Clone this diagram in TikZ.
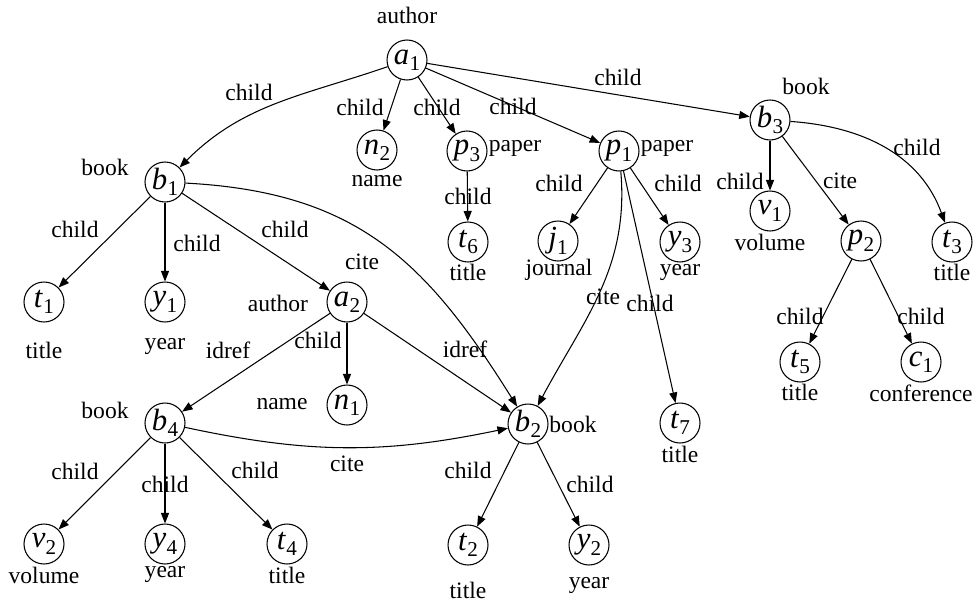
\documentclass[tikz,border=0pt]{standalone}
\usepackage{fontspec}
\setmainfont{Liberation Serif}
\usetikzlibrary{arrows.meta}
\tikzset{mynode/.style={draw, circle, minimum size=0.8cm, inner sep=0pt, line width=0.6pt}}
\tikzset{mynodeTag/.style={inner sep=1pt, font=\fontsize{13.4}{15}\selectfont}}
\tikzset{myarrow/.style={-{Triangle[length=0.21cm,width=0.16cm]}, line width=0.6pt}}
\tikzset{myarrowLbl/.style={inner sep=1pt, font=\fontsize{13.4}{15}\selectfont}}
% italic letter with a lowered index
\newcommand{\vtx}[2]{\fontsize{17.5}{17.5}\selectfont\textit{#1}\kern0.01em\raisebox{-0.45ex}{\fontsize{12}{12}\selectfont #2}}

\begin{document}
\begin{tikzpicture}

\useasboundingbox (0,0) rectangle (19.52,12.08);

\node[mynode] (a1) at (8.14, 10.88) {\vtx{a}{1}};
\node[mynode] (n2) at (7.54, 9.08) {\vtx{n}{2}};
\node[mynode] (p3) at (9.34, 9.06) {\vtx{p}{3}};
\node[mynode] (t6) at (9.36, 7.24) {\vtx{t}{6}};
\node[mynode] (b1) at (3.30, 8.44) {\vtx{b}{1}};
\node[mynode] (t1) at (0.88, 6.04) {\vtx{t}{1}};
\node[mynode] (y1) at (3.30, 6.04) {\vtx{y}{1}};
\node[mynode] (a2) at (6.94, 6.04) {\vtx{a}{2}};
\node[mynode] (n1) at (6.94, 3.98) {\vtx{n}{1}};
\node[mynode] (b4) at (3.30, 3.62) {\vtx{b}{4}};
\node[mynode] (v2) at (0.88, 1.20) {\vtx{v}{2}};
\node[mynode] (y4) at (3.30, 1.20) {\vtx{y}{4}};
\node[mynode] (t4) at (5.74, 1.20) {\vtx{t}{4}};
\node[mynode] (b2) at (10.56, 3.60) {\vtx{b}{2}};
\node[mynode] (t2) at (9.36, 1.18) {\vtx{t}{2}};
\node[mynode] (y2) at (11.78, 1.18) {\vtx{y}{2}};
\node[mynode] (t7) at (13.60, 3.62) {\vtx{t}{7}};
\node[mynode] (p1) at (12.38, 9.06) {\vtx{p}{1}};
\node[mynode] (j1) at (11.16, 7.26) {\vtx{j}{1}};
\node[mynode] (y3) at (13.60, 7.24) {\vtx{y}{3}};
\node[mynode] (b3) at (15.40, 9.68) {\vtx{b}{3}};
\node[mynode] (v1) at (15.40, 7.86) {\vtx{v}{1}};
\node[mynode] (p2) at (17.22, 7.26) {\vtx{p}{2}};
\node[mynode] (t3) at (19.04, 7.24) {\vtx{t}{3}};
\node[mynode] (t5) at (16.00, 4.84) {\vtx{t}{5}};
\node[mynode] (c1) at (18.42, 4.84) {\vtx{c}{1}};

% element names
\node[mynodeTag] (a1tag) at (8.14, 11.78) {author};
\node[mynodeTag] (n2tag) at (7.54, 8.46) {name};
\node[mynodeTag] (p3tag) at (10.30, 9.12) {paper};
\node[mynodeTag] (t6tag) at (9.36, 6.64) {title};
\node[mynodeTag] (b1tag) at (2.10, 8.74) {book};
\node[mynodeTag] (t1tag) at (0.88, 5.08) {title};
\node[mynodeTag] (y1tag) at (3.30, 5.16) {year};
\node[mynodeTag] (a2tag) at (5.56, 6.02) {author};
\node[mynodeTag] (n1tag) at (5.64, 4.00) {name};
\node[mynodeTag] (b4tag) at (2.10, 3.88) {book};
\node[mynodeTag] (v2tag) at (0.88, 0.58) {volume};
\node[mynodeTag] (y4tag) at (3.30, 0.60) {year};
\node[mynodeTag] (t4tag) at (5.74, 0.58) {title};
\node[mynodeTag] (b2tag) at (11.46, 3.60) {book};
\node[mynodeTag] (t2tag) at (9.36, 0.28) {title};
\node[mynodeTag] (y2tag) at (11.78, 0.38) {year};
\node[mynodeTag] (t7tag) at (13.60, 3.00) {title};
\node[mynodeTag] (p1tag) at (13.34, 9.12) {paper};
\node[mynodeTag] (j1tag) at (11.18, 6.68) {journal};
\node[mynodeTag] (y3tag) at (13.60, 6.64) {year};
\node[mynodeTag] (b3tag) at (16.12, 10.36) {book};
\node[mynodeTag] (v1tag) at (15.40, 7.24) {volume};
\node[mynodeTag] (t3tag) at (19.04, 6.64) {title};
\node[mynodeTag] (t5tag) at (16.00, 4.24) {title};
\node[mynodeTag] (c1tag) at (18.42, 4.22) {conference};

% edges
\draw[myarrow] (a1) to[out=199, in=45] (b1);
\draw[myarrow] (a1) -- (n2);
\draw[myarrow] (a1) -- (p3);
\draw[myarrow] (a1) -- (p1);
\draw[myarrow] (a1) -- (b3);
\draw[myarrow] (p3) -- (t6);
\draw[myarrow] (b1) -- (t1);
\draw[myarrow] (b1) -- (y1);
\draw[myarrow] (b1) -- (a2);
\draw[myarrow] (b1) to[out=-3, in=122, looseness=1.1] (b2);
\draw[myarrow] (a2) -- (b4);
\draw[myarrow] (a2) -- (n1);
\draw[myarrow] (a2) -- (b2);
\draw[myarrow] (b4) to[bend right=12] (b2);
\draw[myarrow] (b4) -- (v2);
\draw[myarrow] (b4) -- (y4);
\draw[myarrow] (b4) -- (t4);
\draw[myarrow] (b2) -- (t2);
\draw[myarrow] (b2) -- (y2);
\draw[myarrow] (p1) to[out=-85, in=62] (b2);
\draw[myarrow] (p1) -- (t7);
\draw[myarrow] (p1) -- (j1);
\draw[myarrow] (p1) -- (y3);
\draw[myarrow] (b3) -- (v1);
\draw[myarrow] (b3) -- (p2);
\draw[myarrow] (b3) to[out=-4, in=110] (t3);
\draw[myarrow] (p2) -- (t5);
\draw[myarrow] (p2) -- (c1);

% edge labels
\node[myarrowLbl] (l1) at (4.98, 10.24) {child};
\node[myarrowLbl] (l2) at (7.20, 9.94) {child};
\node[myarrowLbl] (l3) at (8.74, 9.94) {child};
\node[myarrowLbl] (l4) at (10.26, 9.96) {child};
\node[myarrowLbl] (l5) at (12.36, 10.54) {child};
\node[myarrowLbl] (l6) at (9.36, 8.16) {child};
\node[myarrowLbl] (l7) at (1.50, 7.50) {child};
\node[myarrowLbl] (l8) at (3.94, 7.22) {child};
\node[myarrowLbl] (l9) at (5.70, 7.50) {child};
\node[myarrowLbl] (l10) at (7.24, 6.84) {cite};
\node[myarrowLbl] (l11) at (4.56, 5.08) {idref};
\node[myarrowLbl] (l12) at (6.36, 5.28) {child};
\node[myarrowLbl] (l13) at (9.30, 5.10) {idref};
\node[myarrowLbl] (l14) at (6.94, 2.80) {cite};
\node[myarrowLbl] (l15) at (1.50, 2.66) {child};
\node[myarrowLbl] (l16) at (3.30, 2.40) {child};
\node[myarrowLbl] (l17) at (5.10, 2.68) {child};
\node[myarrowLbl] (l18) at (9.36, 2.68) {child};
\node[myarrowLbl] (l19) at (11.80, 2.40) {child};
\node[myarrowLbl] (l20) at (12.06, 6.14) {cite};
\node[myarrowLbl] (l21) at (13.00, 6.02) {child};
\node[myarrowLbl] (l22) at (11.18, 8.42) {child};
\node[myarrowLbl] (l23) at (13.56, 8.42) {child};
\node[myarrowLbl] (l24) at (14.80, 8.46) {child};
\node[myarrowLbl] (l25) at (16.80, 8.46) {cite};
\node[myarrowLbl] (l26) at (18.34, 9.14) {child};
\node[myarrowLbl] (l27) at (16.00, 5.76) {child};
\node[myarrowLbl] (l28) at (18.42, 5.76) {child};

\end{tikzpicture}
\end{document}
